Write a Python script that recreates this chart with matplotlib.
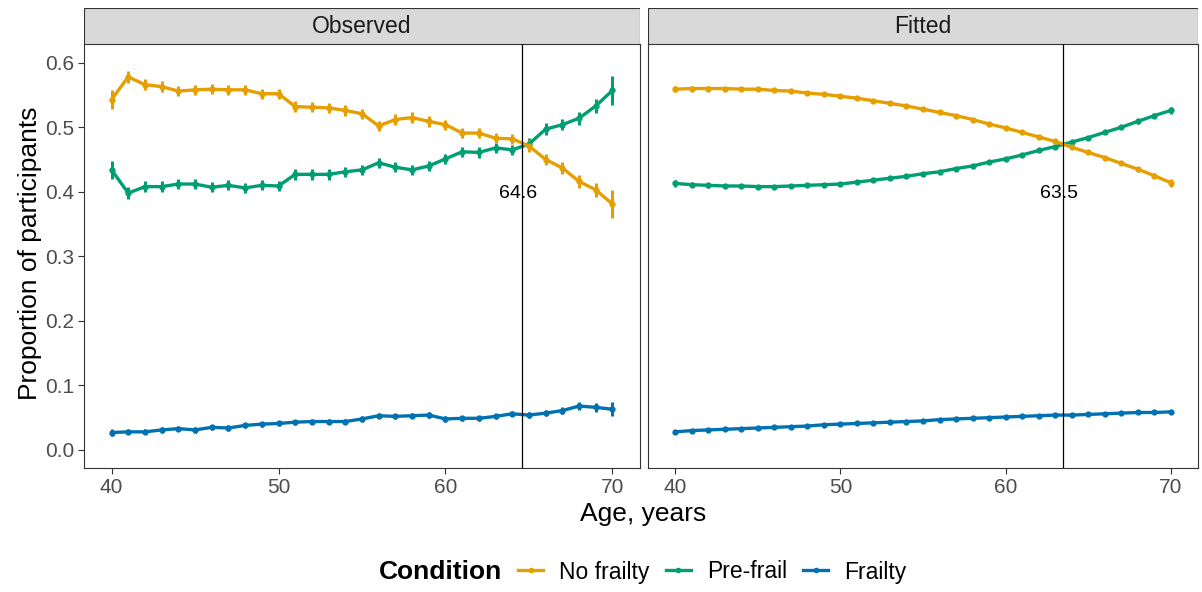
import matplotlib.pyplot as plt
from matplotlib.lines import Line2D
from matplotlib.patches import Rectangle

plt.rcParams['font.family'] = ['Liberation Sans', 'DejaVu Sans']

### data ###
ages = list(range(40, 71))

obs_none = [0.543, 0.578, 0.566, 0.563, 0.556, 0.558, 0.559, 0.558, 0.558, 0.552, 0.552,
            0.532, 0.531, 0.530, 0.526, 0.521, 0.502, 0.512, 0.515, 0.509, 0.504,
            0.491, 0.491, 0.483, 0.482, 0.471, 0.450, 0.437, 0.416, 0.403, 0.381]
obs_pre = [0.434, 0.398, 0.408, 0.408, 0.412, 0.412, 0.407, 0.410, 0.406, 0.410, 0.409,
           0.427, 0.427, 0.427, 0.431, 0.434, 0.445, 0.438, 0.434, 0.440, 0.451,
           0.462, 0.461, 0.468, 0.465, 0.474, 0.497, 0.504, 0.514, 0.533, 0.557]
obs_frail = [0.027, 0.028, 0.028, 0.031, 0.033, 0.031, 0.035, 0.034, 0.038, 0.040, 0.041,
             0.043, 0.044, 0.044, 0.044, 0.048, 0.053, 0.052, 0.053, 0.054, 0.048,
             0.049, 0.049, 0.052, 0.056, 0.054, 0.057, 0.061, 0.068, 0.066, 0.063]

obs_none_se = [0.014, 0.009, 0.008, 0.008, 0.008, 0.008, 0.008, 0.008, 0.008, 0.008, 0.008,
               0.008, 0.008, 0.008, 0.008, 0.008, 0.008, 0.008, 0.008, 0.008, 0.008,
               0.008, 0.008, 0.008, 0.008, 0.009, 0.009, 0.009, 0.010, 0.011, 0.022]
obs_pre_se = [0.014, 0.009, 0.008, 0.008, 0.008, 0.008, 0.008, 0.008, 0.008, 0.008, 0.008,
              0.008, 0.008, 0.008, 0.008, 0.008, 0.008, 0.008, 0.008, 0.008, 0.008,
              0.008, 0.008, 0.008, 0.008, 0.009, 0.009, 0.009, 0.010, 0.011, 0.022]
obs_frail_se = [0.005, 0.004, 0.004, 0.004, 0.004, 0.004, 0.004, 0.004, 0.004, 0.004, 0.004,
                0.004, 0.004, 0.004, 0.004, 0.004, 0.004, 0.004, 0.004, 0.004, 0.004,
                0.004, 0.004, 0.004, 0.004, 0.005, 0.005, 0.005, 0.006, 0.007, 0.011]

fit_none = [0.559, 0.560, 0.560, 0.560, 0.559, 0.559, 0.557, 0.556, 0.553, 0.551, 0.548,
            0.545, 0.541, 0.537, 0.533, 0.528, 0.523, 0.518, 0.512, 0.505, 0.499,
            0.492, 0.485, 0.478, 0.469, 0.461, 0.453, 0.444, 0.435, 0.425, 0.414]
fit_pre = [0.413, 0.411, 0.410, 0.409, 0.409, 0.408, 0.408, 0.409, 0.410, 0.411, 0.412,
           0.415, 0.418, 0.421, 0.424, 0.428, 0.431, 0.436, 0.440, 0.446, 0.451,
           0.457, 0.464, 0.470, 0.477, 0.484, 0.492, 0.500, 0.509, 0.518, 0.526]
fit_frail = [0.028, 0.030, 0.031, 0.032, 0.033, 0.034, 0.035, 0.036, 0.037, 0.039, 0.040,
             0.041, 0.042, 0.043, 0.044, 0.045, 0.047, 0.048, 0.049, 0.050, 0.051,
             0.052, 0.053, 0.054, 0.054, 0.055, 0.056, 0.057, 0.058, 0.058, 0.059]
fit_se = [0.005, 0.004, 0.004, 0.003, 0.003, 0.003, 0.003, 0.003, 0.003, 0.003, 0.003,
          0.003, 0.003, 0.003, 0.003, 0.003, 0.003, 0.003, 0.003, 0.003, 0.003,
          0.003, 0.003, 0.003, 0.003, 0.003, 0.003, 0.003, 0.004, 0.004, 0.006]
fit_frail_se = [0.002] * 31

panels = ['Observed', 'Fitted']
cross_age = [64.6, 63.5]
conditions = ['No frailty', 'Pre-frail', 'Frailty']
colors = ['#E69F00', '#009E73', '#0072B2']

W, H = 1202, 592
fig = plt.figure(figsize=(W / 100, H / 100), dpi=100)


def px_axes(x0, y0, x1, y1):
    return fig.add_axes([x0 / W, 1 - y1 / H, (x1 - x0) / W, (y1 - y0) / H])


series = [
    [(obs_frail, obs_frail_se), (obs_pre, obs_pre_se), (obs_none, obs_none_se)],
    [(fit_frail, fit_frail_se), (fit_pre, fit_se), (fit_none, fit_se)],
]
col_order = [colors[2], colors[1], colors[0]]

boxes = [(84, 640), (648, 1198)]
for i, (x0, x1) in enumerate(boxes):
    ax = px_axes(x0, 44, x1, 468)
    for (vals, se), c in zip(series[i], col_order):
        ax.errorbar(ages, vals, yerr=se, fmt='none', ecolor=c, elinewidth=2.2, capsize=0, zorder=2)
        ax.plot(ages, vals, color=c, lw=2.4, marker='o', ms=3.5, zorder=3)
    ax.axvline(cross_age[i], color='black', lw=0.9, zorder=4)
    # label sits a touch left of the line, like the original
    ax.annotate(f'{cross_age[i]:.1f}', (cross_age[i], 0.398), xytext=(-3, 0), textcoords='offset points',
                ha='center', va='center', fontsize=14, zorder=5)
    ax.set_xlim(38.35, 71.65)
    ax.set_ylim(-0.028, 0.629)
    ax.set_xticks([40, 50, 60, 70])
    ax.set_yticks([0.0, 0.1, 0.2, 0.3, 0.4, 0.5, 0.6])
    ax.set_yticklabels(['0.0', '0.1', '0.2', '0.3', '0.4', '0.5', '0.6'])
    ax.tick_params(colors='#333333', labelcolor='#4D4D4D', labelsize=15, length=4, width=0.8, pad=3)
    if i == 1:
        ax.tick_params(axis='y', left=False, labelleft=False)
    for s in ax.spines.values():
        s.set_color('#333333')
        s.set_linewidth(0.8)

    # facet strip
    sax = px_axes(x0, 8, x1, 44)
    sax.add_patch(Rectangle((0, 0), 1, 1, transform=sax.transAxes, facecolor='#D9D9D9',
                            edgecolor='#333333', lw=0.8))
    sax.text(0.5, 0.48, panels[i], ha='center', va='center', fontsize=16.5, color='#1A1A1A')
    sax.set_axis_off()

fig.text(30 / W, 1 - 253 / H, 'Proportion of participants', rotation=90, ha='center', va='center', fontsize=19)
fig.text(643 / W, 1 - 514 / H, 'Age, years', ha='center', va='center', fontsize=19)

# legend
fig.text(440 / W, 1 - 572 / H, 'Condition', ha='center', va='center', fontsize=19, fontweight='bold')
handles = [Line2D([], [], color=c, lw=2.4, marker='o', ms=3) for c in colors]
fig.legend(handles, conditions, loc='center left', bbox_to_anchor=(518 / W, 1 - 572 / H),
           ncol=3, frameon=False, fontsize=16.5, handlelength=1.1, handletextpad=0.7,
           columnspacing=0.7, borderaxespad=0, borderpad=0)

fig.savefig('out.png', dpi=100)
